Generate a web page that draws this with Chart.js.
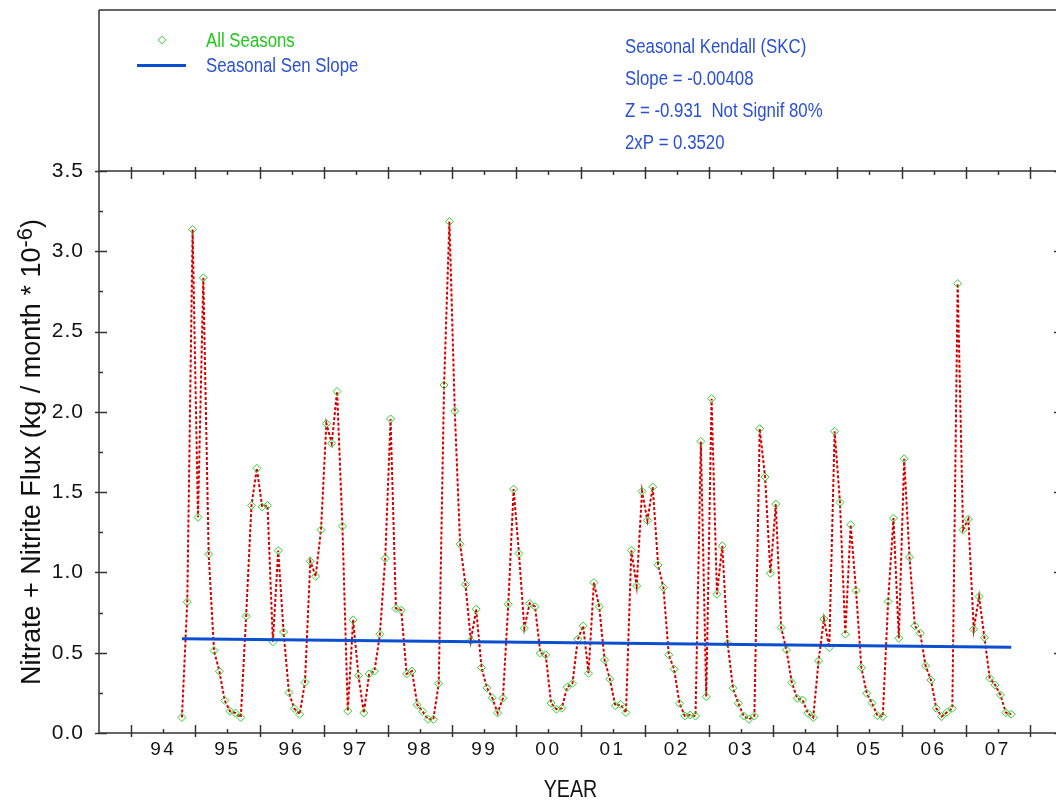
<!DOCTYPE html>
<html><head><meta charset="utf-8">
<style>
html,body{margin:0;padding:0;overflow:hidden;background:#fff;width:1056px;height:804px}
#wrap{position:absolute;left:0;top:0;width:1070px;height:804px}
canvas{display:block}
</style>
<script src="https://cdn.jsdelivr.net/npm/chart.js@4.4.1/dist/chart.umd.min.js"></script>
</head><body><div id="wrap"><canvas id="c" width="1070" height="804"></canvas></div>
<script>
// ---------------- DATA ----------------
// Monthly Nitrate + Nitrite flux, Oct 1994 .. Sep 2007 (kg / month * 10^-6)
const firstYear = 1994, firstMonth = 10;
const flux = [
  // WY1995
  0.097, 0.816, 3.136, 1.343, 2.835, 1.114, 0.513, 0.384, 0.203, 0.135, 0.125, 0.097,
  // WY1996
  0.727, 1.417, 1.648, 1.408, 1.417, 0.568, 1.136, 0.629, 0.252, 0.152, 0.117, 0.315,
  // WY1997
  1.070, 0.976, 1.266, 1.927, 1.804, 2.127, 1.288, 0.137, 0.705, 0.357, 0.125, 0.368,
  // WY1998
  0.386, 0.615, 1.087, 1.956, 0.776, 0.765, 0.368, 0.386, 0.175, 0.134, 0.085, 0.085,
  // WY1999
  0.308, 2.167, 3.185, 2.005, 1.176, 0.925, 0.575, 0.771, 0.408, 0.281, 0.219, 0.125,
  // WY2000
  0.216, 0.802, 1.519, 1.118, 0.653, 0.807, 0.787, 0.498, 0.487, 0.186, 0.148, 0.154,
  // WY2001
  0.285, 0.310, 0.584, 0.667, 0.372, 0.937, 0.787, 0.455, 0.335, 0.170, 0.178, 0.127,
  // WY2002
  1.137, 0.916, 1.505, 1.324, 1.532, 1.047, 0.906, 0.487, 0.397, 0.185, 0.106, 0.112,
  // WY2003
  0.106, 1.816, 0.226, 2.082, 0.864, 1.166, 0.559, 0.279, 0.185, 0.106, 0.085, 0.106,
  // WY2004
  1.895, 1.594, 0.995, 1.426, 0.657, 0.517, 0.314, 0.216, 0.206, 0.123, 0.096, 0.449,
  // WY2005
  0.711, 0.532, 1.879, 1.436, 0.615, 1.297, 0.887, 0.407, 0.247, 0.185, 0.108, 0.102,
  // WY2006
  0.819, 1.338, 0.590, 1.708, 1.095, 0.667, 0.621, 0.418, 0.330, 0.154, 0.102, 0.129,
  // WY2007
  0.154, 2.799, 1.266, 1.332, 0.646, 0.850, 0.594, 0.341, 0.299, 0.237, 0.127, 0.117
];
// Seasonal Sen slope line: value at first and last month
const senSlopeEnds = [0.587, 0.534];
const xTickYears  = [1994,1995,1996,1997,1998,1999,2000,2001,2002,2003,2004,2005,2006,2007];
const xTickLabels = ['94','95','96','97','98','99','00','01','02','03','04','05','06','07'];
const yTickValues = [0, 0.5, 1.0, 1.5, 2.0, 2.5, 3.0, 3.5];
const legendLabels = ['All Seasons', 'Seasonal Sen Slope'];
const statsLines = ['Seasonal Kendall (SKC)', 'Slope = -0.00408', 'Z = -0.931  Not Signif 80%', '2xP = 0.3520'];
const yTitleMain = 'Nitrate + Nitrite Flux (kg / month * 10', yTitleSup = '-6', yTitleEnd = ')';
const xTitle = 'YEAR';

// ---------------- BUILD ----------------
const monthX = flux.map((_, i) => firstYear + (firstMonth - 1 + i + 0.5) / 12);
const fluxPoints = flux.map((v, i) => ({x: monthX[i], y: v}));
const senPoints = [{x: monthX[0], y: senSlopeEnds[0]}, {x: monthX[monthX.length - 1], y: senSlopeEnds[1]}];

function hasFont(name){
  const c = document.createElement('canvas').getContext('2d');
  const s = 'abcdefghijklmnopqrstuvwxyzABCDEFGHIJ0123456789';
  c.font = '40px monospace'; const a = c.measureText(s).width;
  c.font = '40px "' + name + '", monospace'; const b = c.measureText(s).width;
  return Math.abs(a - b) > 0.5;
}
const NARROW_OK = hasFont('Liberation Sans Narrow');
const NARROW = NARROW_OK ? '"Liberation Sans Narrow", "Liberation Sans", Arial, sans-serif' : '"Liberation Sans", Arial, sans-serif';
const REG = '"Liberation Sans", Arial, sans-serif';
const NS = NARROW_OK ? 1 : 0.82;   // horizontal squeeze used when narrow face missing

const W = 1070, H = 804;
const AREA = {left: 99, right: 1062, top: 171, bottom: 733};
const BLUE = '#0b4fd0', TEXTBLUE = '#2b50d2', GREEN = '#22c81a', DIAMOND = '#2fcf2f', RED = '#d40000', AX = '#333333';

function narrowText(ctx, txt, x, y, size, color, align){
  ctx.save();
  ctx.font = size + 'px ' + NARROW;
  ctx.fillStyle = color;
  ctx.textBaseline = 'alphabetic';
  ctx.translate(x, y);
  ctx.scale(NS, 1);
  let w = ctx.measureText(txt).width;
  let sx = 0;
  if (align === 'center') sx = -w / 2;
  ctx.fillText(txt, sx, 0);
  ctx.restore();
}

const framePlugin = {
  id: 'frame',
  beforeDraw(chart){ chart.ctx.letterSpacing = '1px'; },
  afterDatasetsDraw(chart){ chart.ctx.letterSpacing = '2.5px'; },
  afterDraw(chart){
    const ctx = chart.ctx;
    ctx.letterSpacing = '0px';
    const xs = chart.scales.x, ys = chart.scales.y;
    const L = AREA.left, R = AREA.right, T = AREA.top, B = AREA.bottom;
    ctx.save();
    ctx.strokeStyle = AX; ctx.lineWidth = 1.5;
    ctx.beginPath();
    // outer frame
    ctx.moveTo(L, 10); ctx.lineTo(W, 10);
    ctx.moveTo(L, 10); ctx.lineTo(L, B);
    // plot box
    ctx.moveTo(L, T); ctx.lineTo(W, T);
    ctx.moveTo(L, B); ctx.lineTo(W, B);
    ctx.moveTo(R, T); ctx.lineTo(R, B);
    // x ticks
    for (let yv = 1994; yv <= 2008; yv++){
      const px = Math.round(xs.getPixelForValue(yv)) + 0.5;
      ctx.moveTo(px, B - 8); ctx.lineTo(px, B + 4);
      ctx.moveTo(px, T - 4); ctx.lineTo(px, T + 8);
    }
    for (let yv = 1994.5; yv <= 2008; yv += 1){
      const px = Math.round(xs.getPixelForValue(yv)) + 0.5;
      ctx.moveTo(px, B - 4); ctx.lineTo(px, B);
      ctx.moveTo(px, T); ctx.lineTo(px, T + 4);
    }
    // y ticks
    for (let v = 0; v <= 3.5001; v += 0.25){
      const py = Math.round(ys.getPixelForValue(v)) + 0.5;
      const major = Math.abs(v * 2 - Math.round(v * 2)) < 1e-6;
      if (major){
        ctx.moveTo(L - 4, py); ctx.lineTo(L + 8, py);
        ctx.moveTo(R - 8, py); ctx.lineTo(R + 4, py);
      } else {
        ctx.moveTo(L, py); ctx.lineTo(L + 4, py);
        ctx.moveTo(R - 4, py); ctx.lineTo(R, py);
      }
    }
    ctx.stroke();
    ctx.restore();

    // legend
    ctx.save();
    ctx.strokeStyle = DIAMOND; ctx.lineWidth = 1;
    const dx = 162, dy = 40, r = 3.8;
    ctx.beginPath();
    ctx.moveTo(dx, dy - r); ctx.lineTo(dx + r, dy); ctx.lineTo(dx, dy + r); ctx.lineTo(dx - r, dy); ctx.closePath();
    ctx.stroke();
    ctx.strokeStyle = BLUE; ctx.lineWidth = 3;
    ctx.beginPath(); ctx.moveTo(137, 65.5); ctx.lineTo(186, 65.5); ctx.stroke();
    ctx.restore();
    narrowText(ctx, legendLabels[0], 206, 46.7, 20.5, GREEN);
    narrowText(ctx, legendLabels[1], 206, 71.7, 20.5, TEXTBLUE);
    const sy = [53.3, 85, 117.3, 149.3];
    statsLines.forEach((s, i) => narrowText(ctx, s, 625, sy[i], 20.5, TEXTBLUE));

    // x title
    narrowText(ctx, xTitle, 570.5, 797.3, 24, '#111', 'center');

    // y title (rotated, with superscript)
    ctx.save();
    ctx.translate(33, (T + B) / 2);
    ctx.rotate(-Math.PI / 2);
    ctx.fillStyle = '#111';
    ctx.textBaseline = 'middle';
    const F = 27, FS = 22;
    ctx.font = F + 'px ' + REG;
    const w1 = ctx.measureText(yTitleMain).width, w3 = ctx.measureText(yTitleEnd).width;
    ctx.font = FS + 'px ' + REG;
    const w2 = ctx.measureText(yTitleSup).width;
    let x0 = -(w1 + w2 + w3) / 2;
    ctx.font = F + 'px ' + REG;
    ctx.fillText(yTitleMain, x0, 0);
    ctx.font = FS + 'px ' + REG;
    ctx.fillText(yTitleSup, x0 + w1, -7);
    ctx.font = F + 'px ' + REG;
    ctx.fillText(yTitleEnd, x0 + w1 + w2, 0);
    ctx.restore();
  }
};

const tickSizeX = NARROW_OK ? 23 : 19;
const tickSizeY = NARROW_OK ? 25 : 21;

new Chart(document.getElementById('c').getContext('2d'), {
  type: 'scatter',
  data: {
    datasets: [
      {label: legendLabels[1], data: senPoints, showLine: true, borderColor: BLUE, borderWidth: 3,
       pointRadius: 0, order: 0},
      {label: legendLabels[0], data: fluxPoints, showLine: true, borderColor: RED, borderWidth: 2,
       borderDash: [3, 2], pointStyle: 'rectRot', pointRadius: 4, pointBorderColor: DIAMOND,
       pointBorderWidth: 1, pointBackgroundColor: 'rgba(255,255,255,0)', order: 1}
    ]
  },
  options: {
    responsive: false, animation: false, devicePixelRatio: 1,
    layout: {padding: {top: AREA.top, right: W - AREA.right, left: 0, bottom: 0}},
    plugins: {legend: {display: false}, tooltip: {enabled: false}},
    scales: {
      x: {
        type: 'linear', min: 1993.5, max: 2008.5,
        afterBuildTicks: s => { s.ticks = xTickYears.map(y => ({value: y + 0.5})); },
        ticks: {callback: (v, i) => xTickLabels[i], autoSkip: false, maxRotation: 0, minRotation: 0,
                padding: -3, color: '#111', font: {family: NARROW, size: tickSizeX}, z: 1},
        grid: {display: false}, border: {display: false},
        afterFit: s => { s.height = H - AREA.bottom; }
      },
      y: {
        type: 'linear', min: 0, max: 3.5,
        afterBuildTicks: s => { s.ticks = yTickValues.map(v => ({value: v})); },
        ticks: {callback: v => Number(v).toFixed(1), padding: 7, color: '#111',
                font: {family: NARROW, size: tickSizeY}},
        grid: {display: false}, border: {display: false},
        afterFit: s => { s.width = AREA.left; }
      }
    }
  },
  plugins: [framePlugin]
});
</script></body></html>
